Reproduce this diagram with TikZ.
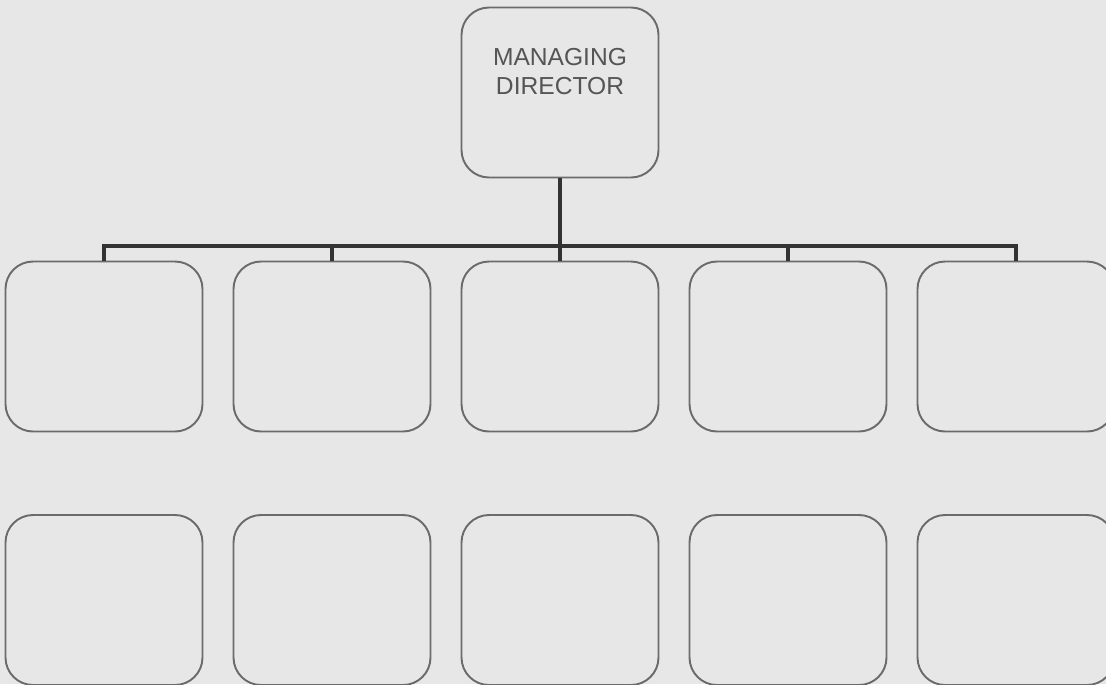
\documentclass[tikz,border=0pt]{standalone}
\usepackage{fontspec}
\setmainfont{Liberation Sans}
\usetikzlibrary{positioning}

\definecolor{paper}{HTML}{E7E7E7}
\definecolor{boxline}{HTML}{6B6B6B}
\definecolor{wire}{HTML}{333333}
\definecolor{ink}{HTML}{555555}

\begin{document}
\begin{tikzpicture}[
    box/.style={rectangle, draw=boxline, line width=1.1pt, rounded corners=0.55cm, fill=paper, minimum width=3.94cm, minimum height=3.4cm},
    link/.style={draw=wire, line width=2.4pt}
]

% Page
\useasboundingbox (0,0) rectangle (22.12,-13.68);
\clip (0,0) rectangle (22.12,-13.68);
\fill[paper] (0,0) rectangle (22.12,-13.68);

% Top of the chart
\node[box, label={[anchor=north, yshift=-0.72cm, align=center, text=ink, font=\fontsize{14}{16}\selectfont]north:MANAGING\\DIRECTOR}] (md) at (11.2,-1.85) {};

% First level
\node[box] (dept1) at (2.08,-6.93) {};
\node[box] (dept2) at (6.64,-6.93) {};
\node[box] (dept3) at (11.2,-6.93) {};
\node[box] (dept4) at (15.76,-6.93) {};
\node[box] (dept5) at (20.32,-6.93) {};

% Second level
\node[box] (sub1) at (2.08,-12.0) {};
\node[box] (sub2) at (6.64,-12.0) {};
\node[box] (sub3) at (11.2,-12.0) {};
\node[box] (sub4) at (15.76,-12.0) {};
\node[box] (sub5) at (20.32,-12.0) {};

% Connections
\draw[link] (md.south) -- ++(0,-1.35) coordinate (bus);
\draw[link, line cap=rect] (bus -| dept1) -- (bus -| dept5);
\draw[link] (bus -| dept1) -- (dept1.north);
\draw[link] (bus -| dept2) -- (dept2.north);
\draw[link] (bus -| dept3) -- (dept3.north);
\draw[link] (bus -| dept4) -- (dept4.north);
\draw[link] (bus -| dept5) -- (dept5.north);

\end{tikzpicture}
\end{document}
